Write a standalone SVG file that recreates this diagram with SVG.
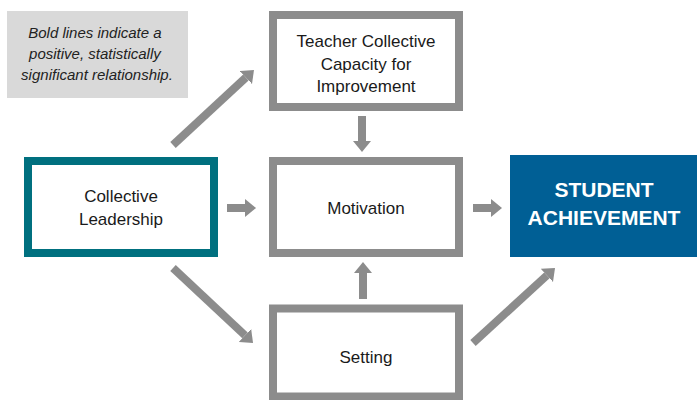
<svg xmlns="http://www.w3.org/2000/svg" width="697" height="400" viewBox="0 0 697 400">
<defs>
<marker id="ah" markerUnits="userSpaceOnUse" markerWidth="11" markerHeight="18" viewBox="0 0 11 18" refX="0" refY="9" orient="auto">
<path d="M0,0 L11,9 L0,18 z" fill="#8c8c8c"/>
</marker>
<style>
.box{fill:#fff;stroke:#8c8c8c;stroke-width:8}
.lbl{font-family:"Liberation Sans",Arial,sans-serif;font-size:17px;fill:#1a1a1a;text-anchor:middle}
.arr{stroke:#8c8c8c;stroke-width:8;fill:none;marker-end:url(#ah)}
</style>
</defs>
<rect width="697" height="400" fill="#fff"/>
<g id="note">
<rect x="7" y="11" width="181" height="87" fill="#d9d9d9"/>
<text font-family="'Liberation Sans',Arial,sans-serif" font-size="15" font-style="italic" fill="#222" text-anchor="middle">
<tspan x="97" y="38">Bold lines indicate a</tspan>
<tspan x="97" y="59">positive, statistically</tspan>
<tspan x="97" y="80">significant relationship.</tspan>
</text>
</g>
<g id="teacher">
<rect class="box" x="273" y="15" width="186" height="92"/>
<text class="lbl"><tspan x="366" y="47">Teacher Collective</tspan><tspan x="366" y="70">Capacity for</tspan><tspan x="366" y="92">Improvement</tspan></text>
</g>
<g id="leadership">
<rect x="28" y="161" width="186" height="92" fill="#fff" stroke="#00707f" stroke-width="8"/>
<text class="lbl"><tspan x="121" y="202">Collective</tspan><tspan x="121" y="225">Leadership</tspan></text>
</g>
<g id="motivation">
<rect class="box" x="273" y="161" width="186" height="92"/>
<text class="lbl" x="366" y="214">Motivation</text>
</g>
<g id="setting">
<rect class="box" x="273" y="308.5" width="186" height="88"/>
<text class="lbl" x="366" y="363">Setting</text>
</g>
<g id="student">
<rect x="510" y="155" width="187" height="102" fill="#005f95"/>
<text font-family="'Liberation Sans',Arial,sans-serif" font-size="21" font-weight="bold" fill="#fff" text-anchor="middle"><tspan x="604" y="197">STUDENT</tspan><tspan x="604" y="225">ACHIEVEMENT</tspan></text>
</g>
<g id="connectors">
<line class="arr" x1="227" y1="208" x2="245" y2="208"/>
<line class="arr" x1="473" y1="208" x2="491" y2="208"/>
<line class="arr" x1="362" y1="116" x2="362" y2="141"/>
<line class="arr" x1="363" y1="299" x2="363" y2="273"/>
<line class="arr" x1="173" y1="145" x2="245.9" y2="77.5"/>
<line class="arr" x1="173" y1="268" x2="245" y2="335.4"/>
<line class="arr" x1="473" y1="343" x2="546.9" y2="275.4"/>
</g>
</svg>
